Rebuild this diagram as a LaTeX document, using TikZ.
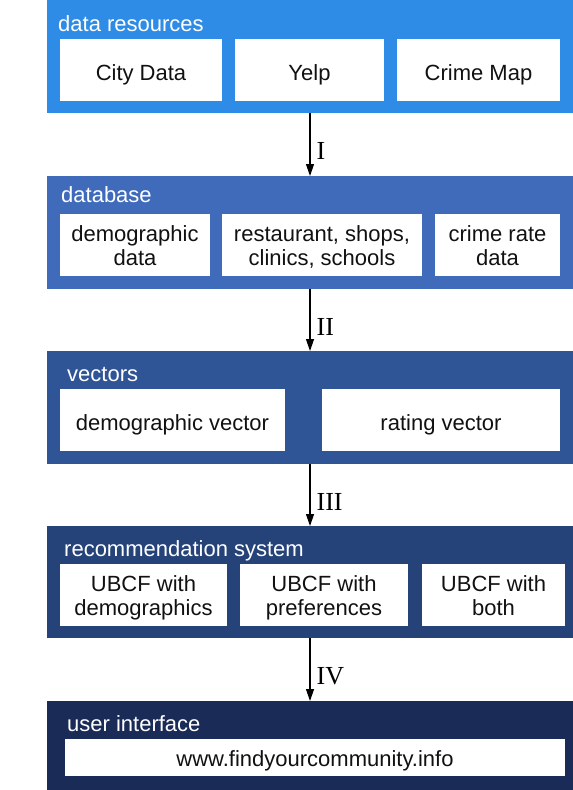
\documentclass[tikz,border=0pt]{standalone}
\usepackage{fontspec}
\setmainfont{Liberation Sans}
\newfontfamily\numfont{Liberation Serif}
\usetikzlibrary{arrows.meta}
\definecolor{cA}{RGB}{46,140,230}
\definecolor{cB}{RGB}{64,107,187}
\definecolor{cC}{RGB}{47,85,151}
\definecolor{cD}{RGB}{37,67,121}
\definecolor{cE}{RGB}{25,43,86}
\definecolor{txt}{RGB}{17,17,17}
\newcommand{\mystrut}{\rule[-5pt]{0pt}{27pt}}
\newcommand{\onestrut}{\rule[-5pt]{0pt}{31pt}}
\newcommand{\boxfont}{\fontsize{22}{24}\selectfont\lineskiplimit=-100pt\relax}
\begin{document}
\begin{tikzpicture}[x=1pt,y=-1pt,
  blk/.style={fill=#1, draw=none, anchor=north west, inner sep=0pt, outer sep=0pt, minimum width=526pt},
  ttl/.style={anchor=base west, text=white, inner sep=0pt, font=\fontsize{22}{24}\selectfont},
  wbox/.style={fill=white, draw=none, anchor=north west, inner sep=0pt, outer sep=0pt, align=center, text=txt, font=\boxfont},
  arr/.style={draw=black, line width=1.2pt, -{Triangle[length=12pt,width=8pt]}},
  lbl/.style={anchor=base west, inner sep=0pt, xshift=6pt, yshift=-15pt, font=\numfont\fontsize{26}{28}\selectfont}
]
\useasboundingbox (0,0) rectangle (573,790);

% block 1
\node[blk=cA, minimum height=113pt] (b1) at (47,0) {};
\node[ttl] (t1) at (58,31) {data resources};
\node[wbox, minimum width=162pt, minimum height=62pt] (b1a) at (60,39) {\onestrut City Data};
\node[wbox, minimum width=149pt, minimum height=62pt] (b1b) at (235,39) {\onestrut Yelp};
\node[wbox, minimum width=163pt, minimum height=62pt] (b1c) at (397,39) {\onestrut Crime Map};

% block 2
\node[blk=cB, minimum height=113pt] (b2) at (47,176) {};
\node[ttl] (t2) at (61,202) {database};
\node[wbox, minimum width=150pt, minimum height=62pt] (b2a) at (60,214) {\mystrut demographic\\\mystrut data};
\node[wbox, minimum width=200pt, minimum height=62pt] (b2b) at (222,214) {\mystrut restaurant, shops,\\\mystrut clinics, schools};
\node[wbox, minimum width=125pt, minimum height=62pt] (b2c) at (435,214) {\mystrut crime rate\\\mystrut data};

% block 3
\node[blk=cC, minimum height=113pt] (b3) at (47,351) {};
\node[ttl] (t3) at (67,381) {vectors};
\node[wbox, minimum width=225pt, minimum height=62pt] (b3a) at (60,389) {\onestrut demographic vector};
\node[wbox, minimum width=238pt, minimum height=62pt] (b3b) at (322,389) {\onestrut rating vector};

% block 4
\node[blk=cD, minimum height=112pt] (b4) at (47,526) {};
\node[ttl] (t4) at (64,556) {recommendation system};
\node[wbox, minimum width=167pt, minimum height=62pt] (b4a) at (60,564) {\mystrut UBCF with\\\mystrut demographics};
\node[wbox, minimum width=168pt, minimum height=62pt] (b4b) at (240,564) {\mystrut UBCF with\\\mystrut preferences};
\node[wbox, minimum width=143pt, minimum height=62pt] (b4c) at (422,564) {\mystrut UBCF with\\\mystrut both};

% block 5
\node[blk=cE, minimum height=89pt] (b5) at (47,701) {};
\node[ttl] (t5) at (67,731) {user interface};
\node[wbox, minimum width=500pt, minimum height=37pt] (b5a) at (65,739) {\mystrut www.findyourcommunity.info};

% arrows
\draw[arr] (b1.south) -- node[lbl] {I} (b2.north);
\draw[arr] (b2.south) -- node[lbl] {II} (b3.north);
\draw[arr] (b3.south) -- node[lbl] {III} (b4.north);
\draw[arr] (b4.south) -- node[lbl] {IV} (b5.north);
\end{tikzpicture}
\end{document}
